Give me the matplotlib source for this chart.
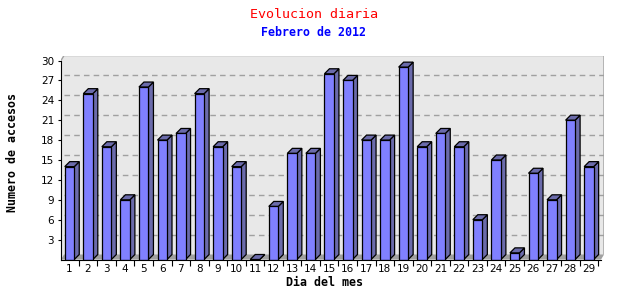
import matplotlib
matplotlib.use("Agg")
import matplotlib.pyplot as plt
from matplotlib.patches import Polygon
import numpy as np

dias = list(range(1, 30))
accesos = [14, 25, 17, 9, 26, 18, 19, 25, 17, 14, 0, 8, 16, 16, 28,
           27, 18, 18, 29, 17, 19, 17, 6, 15, 1, 13, 9, 21, 14]
yticks = list(range(3, 31, 3))

titulo = "Evolucion diaria"
subtitulo = "Febrero de 2012"
xlabel = "Dia del mes"
ylabel = "Numero de accesos"

# geometria (px -> datos)
W, H = 640, 300
px_cat = 18.55      # px por dia
px_val = 6.633      # px por acceso
ax_l, ax_r, ax_t, ax_b = 61, 604, 56, 259.5
xl = 1 - (69.5 - ax_l) / px_cat
xr = 1 + (ax_r - 69.5) / px_cat
ytop = (ax_b - ax_t) / px_val
dx = 5 / px_cat
dy = 5 / px_val
dxw = 3 / px_cat
dyw = 5 / px_val
ancho = 9.5 / px_cat

frente = "#8080ff"
lado = "#6b6bab"
pared = "#e8e8e8"
suelo = "#a0a0a0"

fig = plt.figure(figsize=(W / 100, H / 100), dpi=100)
ax = fig.add_axes([ax_l / W, 1 - ax_b / H, (ax_r - ax_l) / W, (ax_b - ax_t) / H])
ax.set_xlim(xl, xr)
ax.set_ylim(0, ytop)
ax.set_facecolor("white")

# pared del fondo
ax.add_patch(Polygon([(xl, 0), (xl, 30), (xl + dxw, 30 + dyw), (xr, 30 + dyw),
                      (xr, dyw), (xr - dxw, 0)], closed=True,
                     facecolor=pared, edgecolor="none", zorder=0))
ax.plot([xl, xl + dxw, xr, xr], [30, 30 + dyw, 30 + dyw, dyw],
        color="#a0a0a0", lw=1, zorder=1, solid_capstyle="butt")
# suelo
ax.add_patch(Polygon([(xl, 0), (xl + dxw, dyw), (xr, dyw), (xr - dxw, 0)],
                     closed=True, facecolor=suelo, edgecolor="none", zorder=1))
# rejilla
for v in yticks[:-1]:
    ax.plot([xl + dxw, xr], [v + dyw, v + dyw], color="#a0a0a0", lw=1,
            ls=(0, (4, 3)), zorder=1)

# barras 3d
ax.bar(dias, accesos, width=ancho, color=frente, edgecolor="black", lw=0.9, zorder=3)
for d, v in zip(dias, accesos):
    x0 = d - ancho / 2
    x1 = d + ancho / 2
    ax.add_patch(Polygon([(x1, 0), (x1 + dx, dy), (x1 + dx, v + dy), (x1, v)],
                         closed=True, facecolor=lado, edgecolor="black", lw=0.9, zorder=2))
    ax.add_patch(Polygon([(x0, v), (x0 + dx, v + dy), (x1 + dx, v + dy), (x1, v)],
                         closed=True, facecolor=lado, edgecolor="black", lw=0.9, zorder=2))

for s in ["top", "right"]:
    ax.spines[s].set_visible(False)
ax.spines["left"].set_bounds(0, 30)
ax.spines["bottom"].set_bounds(xl, xr - dxw)
ax.spines["left"].set_zorder(4)
ax.spines["bottom"].set_zorder(4)

ax.set_yticks(yticks)
ax.set_yticklabels([str(v) for v in yticks], fontsize=7.5, family="DejaVu Sans")
ax.tick_params(axis="y", length=2, pad=3)

ax.set_xticks([d + 0.5 for d in dias])
ax.set_xticklabels([])
ax.tick_params(axis="x", which="major", length=4)
ax.set_xticks(dias, minor=True)
ax.set_xticklabels([str(d) for d in dias], minor=True, fontsize=7.5, family="DejaVu Sans")
ax.tick_params(axis="x", which="minor", length=0, pad=3)

fig.text(314 / W, 1 - 15 / H, titulo, color="red", fontsize=9.6, family="DejaVu Sans Mono",
         ha="center", va="center")
fig.text(313.5 / W, 1 - 32 / H, subtitulo, color="blue", fontsize=8.4, family="DejaVu Sans Mono",
         fontweight="bold", ha="center", va="center")
fig.text(12.5 / W, 1 - 152 / H, ylabel, rotation=90, fontsize=8.4, family="DejaVu Sans Mono",
         fontweight="bold", ha="center", va="center")
fig.text(324 / W, 1 - 282 / H, xlabel, fontsize=8.4, family="DejaVu Sans Mono",
         fontweight="bold", ha="center", va="center")

fig.savefig("out.png", dpi=100)
